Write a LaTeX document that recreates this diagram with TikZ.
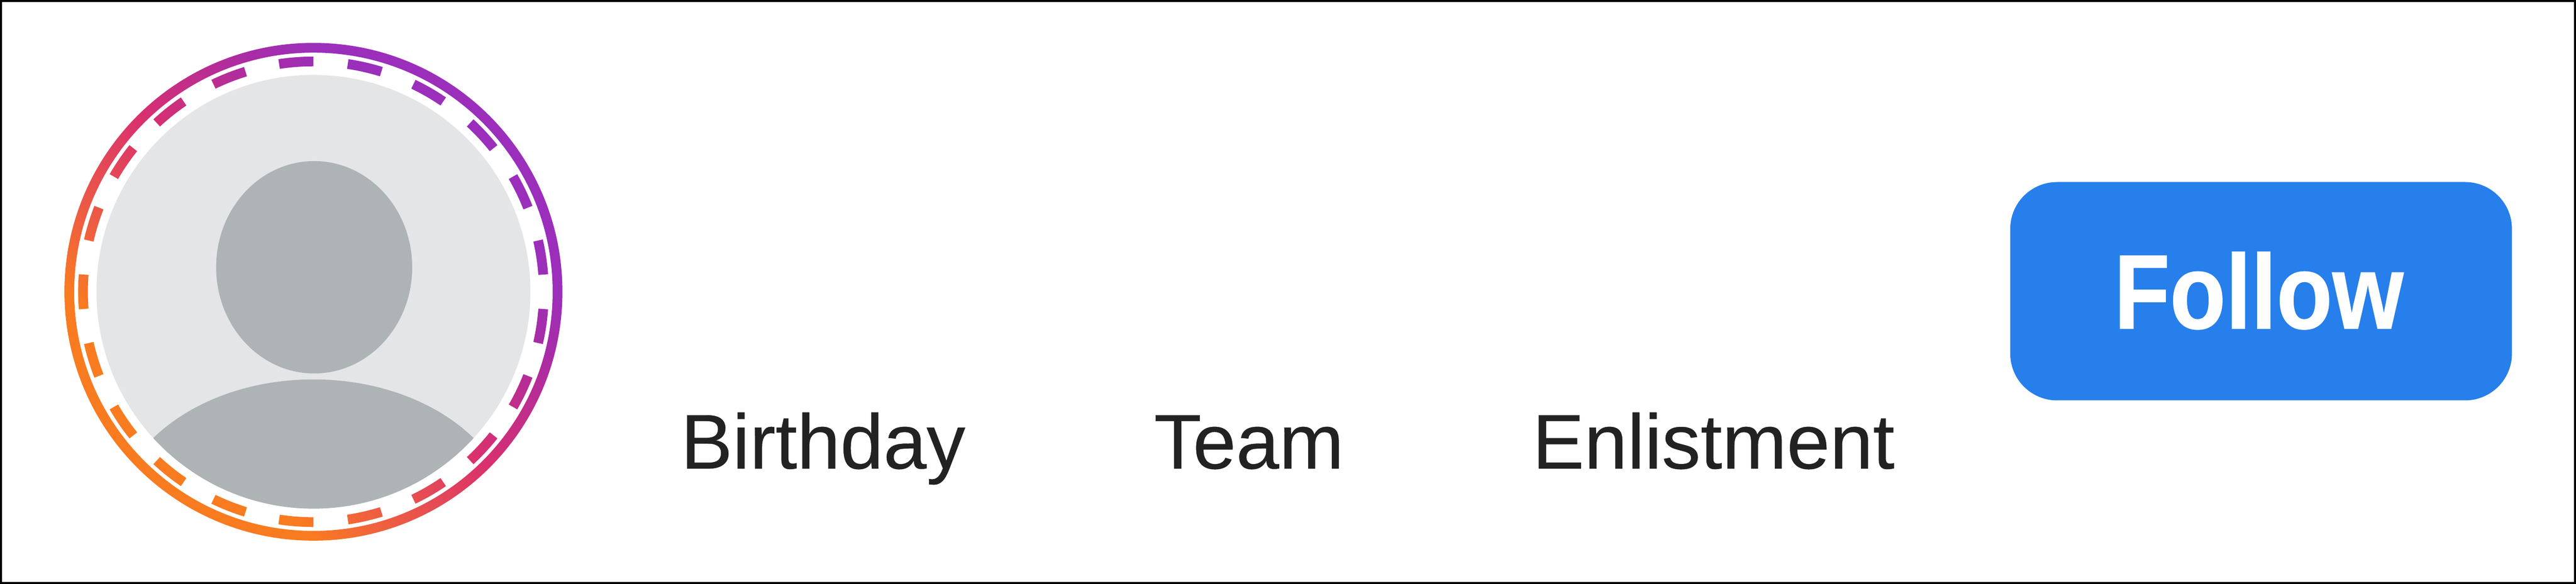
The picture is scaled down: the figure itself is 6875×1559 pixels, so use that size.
\documentclass[tikz,border=0pt]{standalone}
\usepackage{graphicx}
\usepackage{fontspec}
\setmainfont{Liberation Sans}
\newfontfamily\labelfont[FakeBold=0.3]{Liberation Sans}
\newfontfamily\followfont[FakeBold=0.8]{Liberation Sans Bold}
\definecolor{igA}{HTML}{F97B20}
\definecolor{igB}{HTML}{F0633C}
\definecolor{igC}{HTML}{D9306E}
\definecolor{igD}{HTML}{A82CA6}
\definecolor{igE}{HTML}{9B2FBB}
\definecolor{discgray}{HTML}{E4E5E7}
\definecolor{persongray}{HTML}{AEB3B6}
\definecolor{btnblue}{HTML}{277FEB}
\definecolor{labelink}{HTML}{222222}
\pgfdeclareverticalshading{igshade}{100bp}{color(0bp)=(igA); color(32.32bp)=(igA); color(37.5bp)=(igB); color(50bp)=(igC); color(62.5bp)=(igD); color(67.68bp)=(igE); color(100bp)=(igE)}
\tikzset{
  x=0.1pt,y=0.1pt,
  label text/.style={inner sep=0pt,anchor=base west,text=labelink,font=\labelfont\fontsize{20.7}{24}\selectfont},
  grad/.style={shading=igshade,shading angle=-45},
}
\begin{document}
\begin{tikzpicture}
\useasboundingbox (0,0) rectangle (6875,1559);
\fill[white] (0,0) rectangle (6875,1559);
\draw[black,line width=0.5pt] (2.5,2.5) rectangle (6872.5,1556.5);
\begin{scope}[shift={(836.5,780)}]
  \fill[discgray] (0,0) circle (579);
  \begin{scope}
    \clip (0,0) circle (579);
    \fill[persongray] (0,-625) ellipse (534 and 391);
  \end{scope}
  \fill[persongray] (2,65.4) ellipse (261.6 and 283.5);
  \shade[grad,even odd rule] (0,0) circle (664.5) (0,0) circle (638.5);
  \begin{scope}
    \clip \foreach \i in {0,...,20} {
      ({90+17.14286*\i}:602) arc[start angle={90+17.14286*\i},end angle={98.57+17.14286*\i},radius=602]
      -- ({98.57+17.14286*\i}:628) arc[start angle={98.57+17.14286*\i},end angle={90+17.14286*\i},radius=628] -- cycle
    };
    \shade[grad] (-664.5,-664.5) rectangle (664.5,664.5);
  \end{scope}
\end{scope}
\node[label text] (birthday) at (1815,308) {Birthday};
\node[label text] (team) at (3078,308) {Team};
\node[label text] (enlistment) at (4088,308) {Enlistment};
\node[fill=btnblue,rounded corners=12.5pt,minimum width=133.9pt,minimum height=58.3pt,inner sep=0pt,anchor=south west] (followbtn) at (5363,488) {};
\node[inner sep=0pt,anchor=base west,text=white,font=\followfont\fontsize{28.2}{32}\selectfont] (follow) at (5640,682) {\scalebox{0.865}[1]{Follow}};
\end{tikzpicture}
\end{document}
